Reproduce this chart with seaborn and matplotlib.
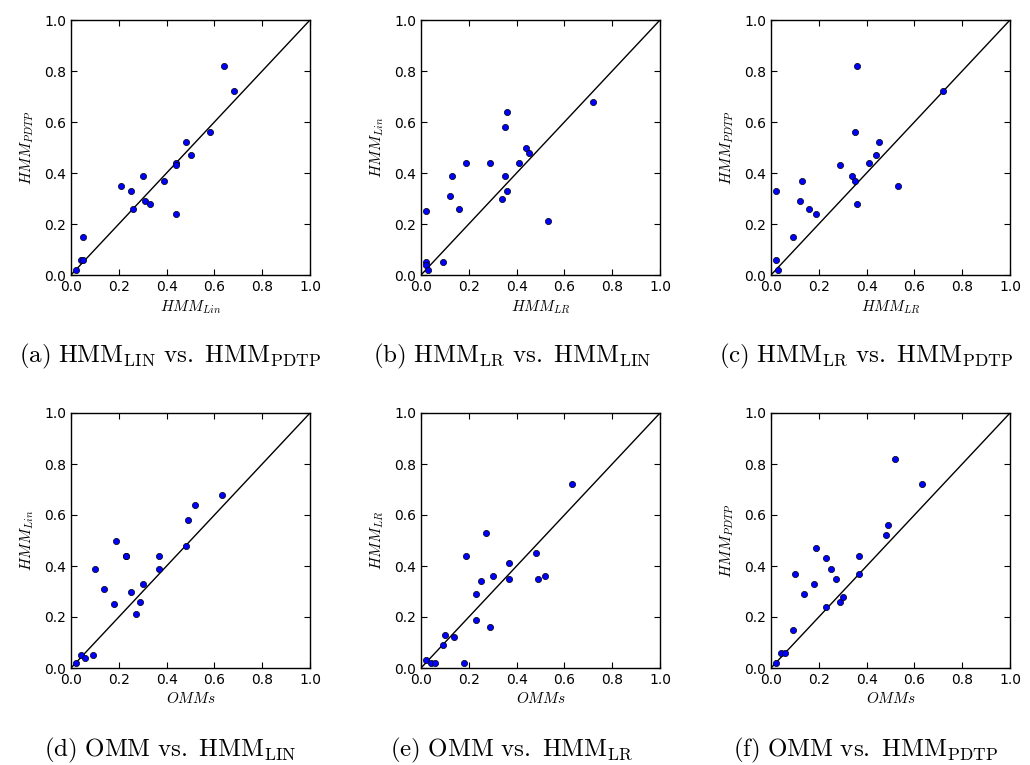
"""Pairwise score comparison scatter plots (HMM variants vs OMM)."""
import matplotlib
matplotlib.use("Agg")
import matplotlib.pyplot as plt
import seaborn as sns
import pandas as pd

# (a) HMM_Lin vs HMM_PDTP
a_x = [0.02, 0.04, 0.05, 0.05, 0.21, 0.25, 0.30, 0.26, 0.31, 0.33, 0.39, 0.44, 0.44, 0.44, 0.48, 0.50, 0.58, 0.64, 0.68]
a_y = [0.02, 0.06, 0.06, 0.15, 0.35, 0.33, 0.39, 0.26, 0.29, 0.28, 0.37, 0.44, 0.43, 0.24, 0.52, 0.47, 0.56, 0.82, 0.72]

# (b) HMM_LR vs HMM_Lin
b_x = [0.02, 0.02, 0.03, 0.02, 0.09, 0.12, 0.13, 0.16, 0.19, 0.29, 0.34, 0.35, 0.35, 0.36, 0.36, 0.41, 0.44, 0.45, 0.53, 0.72]
b_y = [0.05, 0.04, 0.02, 0.25, 0.05, 0.31, 0.39, 0.26, 0.44, 0.44, 0.30, 0.39, 0.58, 0.64, 0.33, 0.44, 0.50, 0.48, 0.21, 0.68]

# (c) HMM_LR vs HMM_PDTP
c_x = [0.02, 0.02, 0.03, 0.09, 0.12, 0.13, 0.16, 0.19, 0.29, 0.34, 0.35, 0.35, 0.36, 0.36, 0.41, 0.44, 0.45, 0.53, 0.72]
c_y = [0.06, 0.33, 0.02, 0.15, 0.29, 0.37, 0.26, 0.24, 0.43, 0.39, 0.56, 0.37, 0.82, 0.28, 0.44, 0.47, 0.52, 0.35, 0.72]

# (d) OMM vs HMM_Lin
d_x = [0.02, 0.04, 0.06, 0.09, 0.10, 0.14, 0.18, 0.19, 0.23, 0.23, 0.25, 0.27, 0.29, 0.30, 0.37, 0.37, 0.48, 0.49, 0.52, 0.63]
d_y = [0.02, 0.05, 0.04, 0.05, 0.39, 0.31, 0.25, 0.50, 0.44, 0.44, 0.30, 0.21, 0.26, 0.33, 0.44, 0.39, 0.48, 0.58, 0.64, 0.68]

# (e) OMM vs HMM_LR
e_x = [0.02, 0.04, 0.06, 0.09, 0.10, 0.14, 0.18, 0.19, 0.23, 0.23, 0.25, 0.27, 0.29, 0.30, 0.37, 0.37, 0.48, 0.49, 0.52, 0.63]
e_y = [0.03, 0.02, 0.02, 0.09, 0.13, 0.12, 0.02, 0.44, 0.29, 0.19, 0.34, 0.53, 0.16, 0.36, 0.41, 0.35, 0.45, 0.35, 0.36, 0.72]

# (f) OMM vs HMM_PDTP
f_x = [0.02, 0.04, 0.06, 0.09, 0.10, 0.14, 0.18, 0.19, 0.23, 0.23, 0.25, 0.27, 0.29, 0.30, 0.37, 0.37, 0.48, 0.49, 0.52, 0.63]
f_y = [0.02, 0.06, 0.06, 0.15, 0.37, 0.29, 0.33, 0.47, 0.43, 0.24, 0.39, 0.35, 0.26, 0.28, 0.44, 0.37, 0.52, 0.56, 0.82, 0.72]

ticks = [0.0, 0.2, 0.4, 0.6, 0.8, 1.0]

panels = [
    (a_x, a_y, r"$HMM_{Lin}$", r"$HMM_{PDTP}$", r"$\mathrm{(a)\ HMM_{LIN}\ vs.\ HMM_{PDTP}}$"),
    (b_x, b_y, r"$HMM_{LR}$", r"$HMM_{Lin}$", r"$\mathrm{(b)\ HMM_{LR}\ vs.\ HMM_{LIN}}$"),
    (c_x, c_y, r"$HMM_{LR}$", r"$HMM_{PDTP}$", r"$\mathrm{(c)\ HMM_{LR}\ vs.\ HMM_{PDTP}}$"),
    (d_x, d_y, r"$OMMs$", r"$HMM_{Lin}$", r"$\mathrm{(d)\ OMM\ vs.\ HMM_{LIN}}$"),
    (e_x, e_y, r"$OMMs$", r"$HMM_{LR}$", r"$\mathrm{(e)\ OMM\ vs.\ HMM_{LR}}$"),
    (f_x, f_y, r"$OMMs$", r"$HMM_{PDTP}$", r"$\mathrm{(f)\ OMM\ vs.\ HMM_{PDTP}}$"),
]

sns.set_style("ticks")
plt.rcParams.update({
    "mathtext.fontset": "cm",
    "xtick.direction": "in",
    "ytick.direction": "in",
    "xtick.top": True,
    "ytick.right": True,
    "xtick.major.size": 4,
    "ytick.major.size": 4,
    "axes.linewidth": 1.0,
    "axes.edgecolor": "black",
    "axes.labelcolor": "black",
    "text.color": "black",
})
plt.rcParams["font.family"] = ["DejaVu Sans"]

W, H = 1030, 765
fig = plt.figure(figsize=(W / 100, H / 100), dpi=100)

lefts = [71, 421, 771]
bottoms = [275, 668]
ax_w, ax_h = 239, 255
caption_x = [170, 512, 866]
caption_base = [362, 756]

for i, (xs, ys, xl, yl, cap) in enumerate(panels):
    row, col = divmod(i, 3)
    ax = fig.add_axes([lefts[col] / W, (H - bottoms[row]) / H, ax_w / W, ax_h / H])
    df = pd.DataFrame({"x": xs, "y": ys})
    ax.plot([0, 1], [0, 1], color="black", lw=1.0, zorder=1)
    sns.scatterplot(data=df, x="x", y="y", ax=ax, color="#0000ff",
                    edgecolor="black", linewidth=0.5, s=20, zorder=3)
    ax.set_xlim(0, 1)
    ax.set_ylim(0, 1)
    ax.set_xticks(ticks)
    ax.set_yticks(ticks)
    ax.tick_params(labelsize=10, colors="black", width=0.8)
    ax.set_xlabel(xl, fontsize=11, labelpad=3, color="black")
    ax.set_ylabel(yl, fontsize=11, labelpad=6, color="black")
    fig.text(caption_x[col] / W, (H - caption_base[row]) / H, cap,
             ha="center", va="baseline", fontsize=18, color="black")

fig.savefig("out.png", dpi=100)
